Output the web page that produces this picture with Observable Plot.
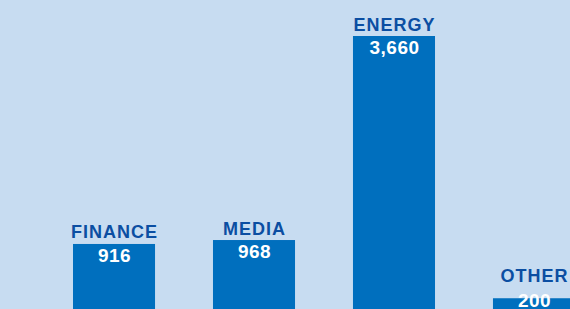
<!DOCTYPE html>
<html>
<head>
<meta charset="utf-8">
<script src="https://cdn.jsdelivr.net/npm/d3@7"></script>
<script src="https://cdn.jsdelivr.net/npm/@observablehq/plot@0.6"></script>
<style>
  html, body { margin: 0; padding: 0; background: #c7dcf1; overflow: hidden; }
  #chart svg { display: block; background: #c7dcf1; }
</style>
</head>
<body>
<div id="chart"></div>
<script>
const categories = ["FINANCE", "MEDIA", "ENERGY", "OTHER"];
const values = [916, 968, 3660, 200];
const valueLabels = ["916", "968", "3,660", "200"];

const data = categories.map((c, i) => ({ category: c, value: values[i], label: valueLabels[i] }));
const nameY = d => Math.max(d.value, 348);
const valueY = d => Math.max(d.value, 320);

const svg = Plot.plot({
  width: 570,
  height: 309,
  margin: 0,
  style: { background: "#c7dcf1", fontFamily: "Liberation Sans, Arial, sans-serif" },
  x: { domain: categories, range: [73, 575], paddingInner: 0.414, paddingOuter: 0, round: false, axis: null },
  y: { domain: [0, 3660], range: [313.4, 36], axis: null },
  marks: [
    Plot.barY(data, { x: "category", y: "value", fill: "#006fbe" }),
    Plot.text(data, { x: "category", y: nameY, text: "category", dy: -6, lineAnchor: "bottom",
      fill: "#0b4ea2", fontSize: 18, fontWeight: "bold" }),
    Plot.text(data, { x: "category", y: valueY, text: "label", dy: 4, lineAnchor: "top",
      fill: "white", fontSize: 19, fontWeight: "bold" })
  ]
});
const texts = svg.querySelectorAll('g[aria-label="text"]');
if (texts[0]) texts[0].setAttribute("letter-spacing", "1");
if (texts[1]) texts[1].setAttribute("letter-spacing", "0.5");
document.getElementById("chart").appendChild(svg);
</script>
</body>
</html>
